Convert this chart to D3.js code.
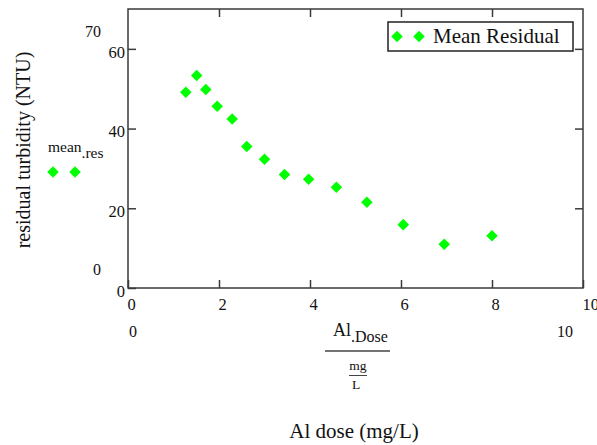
<!DOCTYPE html>
<html>
<head>
<meta charset="utf-8">
<script src="https://cdn.jsdelivr.net/npm/d3@7"></script>
<style>
  body { margin: 0; background: #fff; }
  svg text { font-family: 'Liberation Serif', 'Times New Roman', serif; fill: #111; }
</style>
</head>
<body>
<svg width="597" height="445"></svg>
<script>
'use strict';

// Al dose (mg/L) and mean residual turbidity (NTU)
const alDose = [1.27, 1.51, 1.71, 1.96, 2.29, 2.61, 3.0, 3.44, 3.97, 4.58, 5.25, 6.05, 6.95, 8.0];
const meanRes = [49.1, 53.3, 49.8, 45.6, 42.4, 35.5, 32.3, 28.5, 27.3, 25.3, 21.5, 15.9, 11.0, 13.1];
const xTicks = [0, 2, 4, 6, 8, 10];
const yTicks = [0, 20, 40, 60];

const svg = d3.select('svg');
const margin = { top: 9, right: 14, bottom: 157, left: 128 };
const width = +svg.attr('width');
const height = +svg.attr('height');
const innerWidth = width - margin.left - margin.right;
const innerHeight = height - margin.top - margin.bottom;

const xScale = d3.scaleLinear().domain([0, 10]).range([0, innerWidth]);
const yScale = d3.scaleLinear().domain([0, 70]).range([innerHeight, 0]);

const g = svg.append('g')
  .attr('transform', `translate(${margin.left},${margin.top})`);

const axisColor = '#3a3a3a';
const tickLen = 8;
const tickFont = '16.5px';

g.append('rect')
  .attr('width', innerWidth)
  .attr('height', innerHeight)
  .attr('fill', 'none')
  .attr('stroke', axisColor)
  .attr('stroke-width', 1.5);

// inward ticks on all four sides
const styleAxis = sel => {
  sel.attr('font-family', null).attr('font-size', null);
  sel.select('.domain').remove();
  sel.selectAll('.tick line').attr('stroke', axisColor).attr('stroke-width', 1.5);
  sel.selectAll('.tick text')
    .style('font-size', tickFont)
    .attr('fill', '#111');
};

g.append('g')
  .attr('transform', `translate(0,${innerHeight})`)
  .call(d3.axisBottom(xScale).tickValues(xTicks).tickSizeInner(-tickLen).tickSizeOuter(0).tickPadding(10))
  .call(styleAxis)
  .call(s => s.selectAll('.tick text').attr('text-anchor', 'start').attr('dx', '-1'));

g.append('g')
  .call(d3.axisTop(xScale).tickValues(xTicks.slice(1, -1)).tickSizeInner(-tickLen).tickSizeOuter(0).tickFormat(''))
  .call(styleAxis);

g.append('g')
  .call(d3.axisLeft(yScale).tickValues(yTicks).tickSizeInner(-tickLen).tickSizeOuter(0).tickPadding(3))
  .call(styleAxis)
  .call(s => s.selectAll('.tick text').attr('dy', '0.5em'));

g.append('g')
  .attr('transform', `translate(${innerWidth},0)`)
  .call(d3.axisRight(yScale).tickValues(yTicks.slice(1)).tickSizeInner(-tickLen).tickSizeOuter(0).tickFormat(''))
  .call(styleAxis);

// points
const diamond = d3.symbol().type(d3.symbolDiamond2).size(85);
const green = '#00ff00';

g.selectAll('.pt')
  .data(alDose.map((d, i) => ({ x: d, y: meanRes[i] })))
  .enter().append('path')
    .attr('class', 'pt')
    .attr('d', diamond)
    .attr('fill', green)
    .attr('transform', d => `translate(${xScale(d.x)},${yScale(d.y)})`);

// legend
const lg = g.append('g').attr('transform', `translate(${388 - margin.left},${22 - margin.top})`);
lg.append('rect')
  .attr('width', 185).attr('height', 29)
  .attr('fill', '#fff').attr('stroke', '#222').attr('stroke-width', 1.5);
[9, 31].forEach(cx => lg.append('path')
  .attr('d', diamond).attr('fill', green)
  .attr('transform', `translate(${cx},14.5)`));
lg.append('text')
  .attr('x', 45).attr('y', 21)
  .style('font-size', '21px')
  .text('Mean Residual');

// mathcad-style limit labels
svg.append('text')
  .attr('x', 101).attr('y', 37).attr('text-anchor', 'end')
  .style('font-size', '16px').text('70');
svg.append('text')
  .attr('x', 101).attr('y', 275).attr('text-anchor', 'end')
  .style('font-size', '16px').text('0');
svg.append('text')
  .attr('x', 129).attr('y', 337)
  .style('font-size', '16px').text('0');
svg.append('text')
  .attr('x', 557).attr('y', 337)
  .style('font-size', '16px').text('10');

svg.append('text')
  .attr('x', 23).attr('y', 150)
  .attr('transform', 'rotate(-90,23,150)')
  .attr('text-anchor', 'middle').attr('dy', '0.35em')
  .style('font-size', '20px')
  .text('residual turbidity (NTU)');

// y variable name and its marker
const yName = svg.append('text').attr('x', 48).attr('y', 152).style('font-size', '15.5px');
yName.append('tspan').text('mean');
yName.append('tspan').attr('dy', 6).text('.res');
[53, 75].forEach(cx => svg.append('path')
  .attr('d', diamond).attr('fill', green)
  .attr('transform', `translate(${cx},172)`));

// x expression Al.Dose / (mg/L)
const xName = svg.append('text').attr('x', 333).attr('y', 336).style('font-size', '18px');
xName.append('tspan').text('Al');
xName.append('tspan').attr('dy', 6).style('font-size', '16px').text('.Dose');
svg.append('line')
  .attr('x1', 325).attr('x2', 390).attr('y1', 351).attr('y2', 351)
  .attr('stroke', '#444').attr('stroke-width', 1.5);
svg.append('text')
  .attr('x', 358).attr('y', 370).attr('text-anchor', 'middle')
  .style('font-size', '13.5px').text('mg');
svg.append('line')
  .attr('x1', 349).attr('x2', 367).attr('y1', 375.5).attr('y2', 375.5)
  .attr('stroke', '#444').attr('stroke-width', 1);
svg.append('text')
  .attr('x', 356).attr('y', 389).attr('text-anchor', 'middle')
  .style('font-size', '13.5px').text('L');

svg.append('text')
  .attr('x', 354).attr('y', 438).attr('text-anchor', 'middle')
  .style('font-size', '21px')
  .text('Al dose (mg/L)');
</script>
</body>
</html>
